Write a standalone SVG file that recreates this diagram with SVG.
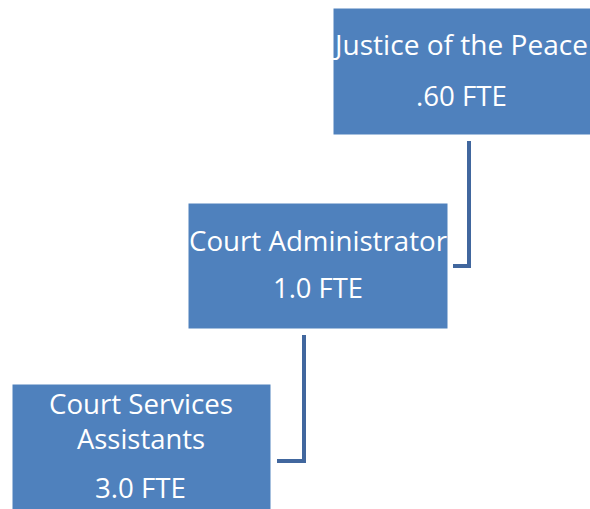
<svg xmlns="http://www.w3.org/2000/svg" width="590" height="509" viewBox="0 0 590 509">
<style>
.box{fill:#4F81BD;stroke:#ffffff;stroke-width:1}
.t{font-family:"Open Sans","Liberation Sans",Arial,sans-serif;font-size:28px;fill:#ffffff;text-anchor:middle}
.c{fill:none;stroke:#41679E;stroke-width:4}
</style>
<rect width="590" height="509" fill="#ffffff"/>
<g id="connectors">
<polyline class="c" points="469,141 469,266 453,266"/>
<polyline class="c" points="304,335 304,461 277,461"/>
</g>
<g id="justice">
<rect class="box" x="333" y="8" width="260" height="127"/>
<text class="t" x="461.5" y="55" textLength="253" lengthAdjust="spacingAndGlyphs">Justice of the Peace</text>
<text class="t" x="461.5" y="106" textLength="91" lengthAdjust="spacingAndGlyphs">.60 FTE</text>
</g>
<g id="admin">
<rect class="box" x="188" y="203" width="260" height="126"/>
<text class="t" x="318" y="250.5" textLength="258" lengthAdjust="spacingAndGlyphs">Court Administrator</text>
<text class="t" x="318" y="298" textLength="90" lengthAdjust="spacingAndGlyphs">1.0 FTE</text>
</g>
<g id="assistants">
<rect class="box" x="12" y="384" width="259" height="130"/>
<text class="t" x="141" y="414" textLength="184" lengthAdjust="spacingAndGlyphs">Court Services</text>
<text class="t" x="141" y="449" textLength="128" lengthAdjust="spacingAndGlyphs">Assistants</text>
<text class="t" x="140.5" y="498" textLength="91" lengthAdjust="spacingAndGlyphs">3.0 FTE</text>
</g>
</svg>
